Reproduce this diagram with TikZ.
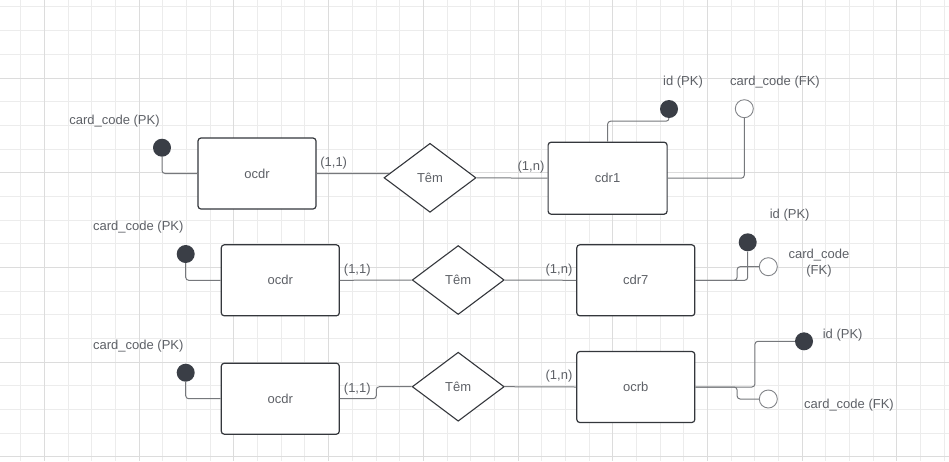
\documentclass[tikz,border=0pt]{standalone}
\usepackage{fontspec}
\setmainfont{Liberation Sans}
\usetikzlibrary{shapes.geometric}
\definecolor{gridminor}{RGB}{236,236,236}
\definecolor{gridmajor}{RGB}{220,220,220}
\definecolor{txt}{RGB}{94,97,103}
\definecolor{boxc}{RGB}{52,55,60}
\definecolor{linec}{RGB}{118,120,124}
\definecolor{dotc}{RGB}{58,62,70}
\definecolor{ringc}{RGB}{130,132,136}
\tikzset{
  minorline/.style={draw=gridminor, line width=1pt},
  majorline/.style={draw=gridmajor, line width=1pt},
  entity/.style={draw=boxc, line width=1.2pt, rounded corners=3pt, fill=white,
    minimum width=118pt, minimum height=71pt, inner sep=0pt, text=txt,
    font=\fontsize{13}{15}\selectfont},
  rel/.style={diamond, draw=boxc, line width=1.1pt, fill=white,
    minimum width=92pt, minimum height=69pt, inner sep=0pt, text=txt,
    font=\fontsize{13}{15}\selectfont},
  pkdot/.style={circle, fill=dotc, minimum size=18pt, inner sep=0pt},
  fkring/.style={circle, draw=ringc, line width=0.9pt, fill=white, minimum size=18pt, inner sep=0pt},
  lbl/.style={text=txt, inner sep=0pt, yshift=-2pt, font=\fontsize{13}{16}\selectfont},
  conn/.style={draw=linec, line width=1pt, rounded corners=3pt},
}
\begin{document}
\begin{tikzpicture}[x=1pt,y=-1pt]
\useasboundingbox (0,0) rectangle (949,461);
\fill[white] (0,0) rectangle (949,461);
% background grid
\foreach \i in {-1,...,39} {
  \draw[minorline] ({44.5+23.68*\i},0) -- ++(0,461);
}
\foreach \j in {-3,...,16} {
  \draw[minorline] (0,{78+23.68*\j}) -- ++(949,0);
}
\foreach \i in {0,...,9} {
  \draw[majorline] ({44.5+94.72*\i},0) -- ++(0,461);
}
\foreach \j in {0,...,4} {
  \draw[majorline] (0,{78+94.72*\j}) -- ++(949,0);
}

% row 1
\node[entity] (ocdr1) at (257,173.5) {ocdr};
\node[rel] (tem1) at (430,177.8) {Têm};
\node[entity, minimum width=119pt, minimum height=72pt] (cdr1) at (607.6,178.2) {cdr1};
\node[pkdot] (pk1) at (162,147.7) {};
\node[pkdot] (pkc1) at (669,109) {};
\node[fkring] (fkc1) at (744.3,108.7) {};

% row 2
\node[entity] (ocdr2) at (280.3,280.3) {ocdr};
\node[rel] (tem2) at (458.2,280) {Têm};
\node[entity] (cdr7) at (635.8,280.3) {cdr7};
\node[pkdot] (pk2) at (185.7,254) {};
\node[pkdot] (pkc7) at (747.7,242.3) {};
\node[fkring] (fkc7) at (768.3,266.7) {};

% row 3
\node[entity] (ocdr3) at (280.3,398.7) {ocdr};
\node[rel] (tem3) at (458.2,386.7) {Têm};
\node[entity] (ocrb) at (635.8,387) {ocrb};
\node[pkdot] (pk3) at (185.7,372.7) {};
\node[pkdot] (pkrb) at (804,341.3) {};
\node[fkring] (fkrb) at (768.3,399) {};

% connectors, row 1
\draw[conn] (pk1.south) |- (ocdr1.west);
\draw[conn] (ocdr1.east) -- (tem1.174);
\draw[conn] (tem1.east) -- (cdr1.west);
\draw[conn] (cdr1.north) |- ([yshift=-3pt]pkc1.south) -- (pkc1.south);
\draw[conn] (cdr1.east) -| (fkc1.south);

% connectors, row 2
\draw[conn] (pk2.south) |- (ocdr2.west);
\draw[conn] (ocdr2.east) -- (tem2.west);
\draw[conn] (tem2.east) -- (cdr7.west);
\draw[conn] (cdr7.east) -| (pkc7.south);
\draw[conn] (cdr7.east) -- ([xshift=41.7pt]cdr7.east) |- (fkc7.west);

% connectors, row 3
\draw[conn] (pk3.south) |- (ocdr3.west);
\draw[conn] (ocdr3.east) -- ([xshift=36.4pt]ocdr3.east) |- (tem3.west);
\draw[conn] (tem3.east) -- (ocrb.west);
\draw[conn] (ocrb.east) -- ([xshift=59.5pt]ocrb.east) |- (pkrb.west);
\draw[conn] (ocrb.east) -- ([xshift=41.7pt]ocrb.east) |- (fkrb.west);

% attribute and cardinality labels
\node[lbl] (a1) at (114.5,119.3) {card\_code (PK)};
\node[lbl] (a2) at (138.3,225.3) {card\_code (PK)};
\node[lbl] (a3) at (138.3,344) {card\_code (PK)};
\node[lbl] (c11) at (333.7,160.7) {(1,1)};
\node[lbl] (c12) at (357.3,267.7) {(1,1)};
\node[lbl] (c13) at (357.3,386.7) {(1,1)};
\node[lbl] (n1) at (531,165) {(1,n)};
\node[lbl] (n2) at (559,267.7) {(1,n)};
\node[lbl] (n3) at (559,374) {(1,n)};
\node[lbl] (id1) at (683,80) {id (PK)};
\node[lbl] (id2) at (789.7,213.3) {id (PK)};
\node[lbl] (id3) at (842.7,332.7) {id (PK)};
\node[lbl] (f1) at (775,80) {card\_code (FK)};
\node[lbl, align=center] (f2) at (819,261.3) {card\_code\\(FK)};
\node[lbl] (f3) at (849,402.7) {card\_code (FK)};
\end{tikzpicture}
\end{document}
